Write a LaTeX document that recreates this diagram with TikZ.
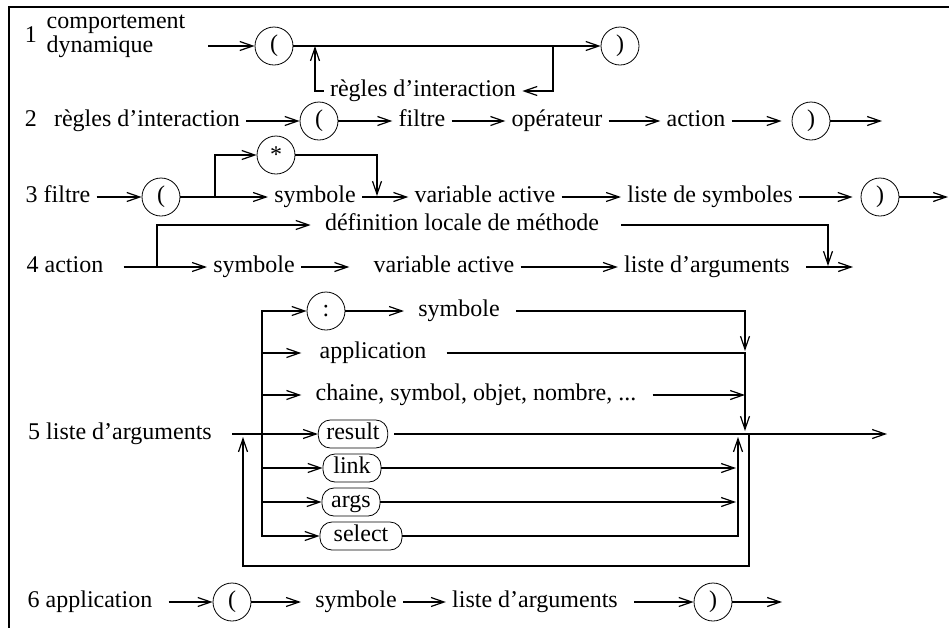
\documentclass[tikz,border=0pt]{standalone}
\usepackage{fontspec}
\setmainfont{Liberation Serif}
\usetikzlibrary{arrows.meta}

\begin{document}
\begin{tikzpicture}[x=0.5pt, y=-0.5pt,
  every node/.style={font=\fontsize{12}{9}\selectfont},
  lbl/.style={inner sep=3pt, text height=1.5ex, text depth=.25ex},
  circ/.style={draw, circle, minimum size=19pt, inner sep=0pt},
  rbox/.style={draw, rounded corners=6pt, minimum height=14pt, inner ysep=0pt, inner xsep=4pt, minimum width=29pt, text height=1.5ex, text depth=.25ex},
  arr/.style={-{Straight Barb[length=6.5pt,width=4.5pt]}, line width=0.6pt},
  ln/.style={line width=0.6pt}
]
  \useasboundingbox (0,0) rectangle (949,628);
  \draw[line width=1.2pt] (949,7) -- (9,7) -- (9,628);

  % 1 comportement dynamique
  \node[lbl] (n1) at (31,37) {1};
  \node[align=left, inner sep=0pt] (cd1) at (116,36) {comportement\\dynamique};
  \coordinate (s1) at (208,46);
  \node[circ] (p1a) at (274,46) {(};
  \node[circ] (p1b) at (620,46) {)};
  \node[lbl] (ri1) at (423,91) {règles d'interaction};
  \coordinate (j1a) at (553,46);
  \coordinate (j1b) at (315,46);
  \draw[arr] (s1) -- (p1a);
  \draw[arr] (p1a) -- (p1b);
  \draw[arr] (j1a) |- (ri1);
  \draw[arr] (ri1) -| (j1b);

  % 2 regles d'interaction
  \node[lbl] (n2) at (31,121) {2};
  \node[lbl] (ri2) at (147,121) {règles d'interaction};
  \node[circ] (p2a) at (319,121) {(};
  \node[lbl] (fi2) at (422,121) {filtre};
  \node[lbl] (op2) at (557,121) {opérateur};
  \node[lbl] (ac2) at (696,121) {action};
  \node[circ] (p2b) at (811,121) {)};
  \coordinate (e2) at (882,121);
  \draw[arr] (ri2) -- (p2a);
  \draw[arr] (p2a) -- (fi2);
  \draw[arr] (fi2) -- (op2);
  \draw[arr] (op2) -- (ac2);
  \draw[arr, shorten >=5pt] (ac2) -- (p2b);
  \draw[arr] (p2b) -- (e2);

  % 3 filtre
  \node[lbl] (fi3) at (58,197) {3 filtre};
  \node[circ] (p3a) at (161,197) {(};
  \coordinate (j3) at (215,197);
  \node[circ] (st3) at (276,155) {*};
  \node[lbl] (sy3) at (315,197) {symbole};
  \coordinate (j3b) at (377,196);
  \node[lbl] (va3) at (485,197) {variable active};
  \node[lbl] (ls3) at (710,197) {liste de symboles};
  \node[circ] (p3b) at (880,197) {)};
  \coordinate (e3) at (948,197);
  \draw[arr] (fi3) -- (p3a);
  \draw[ln] (p3a) -- (j3);
  \draw[arr] (j3) |- (st3);
  \draw[arr] (j3) -- (sy3);
  \draw[arr] (st3) -| (j3b);
  \draw[arr] (sy3) -- (va3);
  \draw[arr] (va3) -- (ls3);
  \draw[arr, shorten >=4pt] (ls3) -- (p3b);
  \draw[arr] (p3b) -- (e3);

  % 4 action
  \node[lbl] (ac4) at (65,267) {4 action};
  \coordinate (j4) at (157,267);
  \node[lbl] (dl4) at (462,225) {définition locale de méthode};
  \node[lbl] (sy4) at (254,267) {symbole};
  \node[lbl] (va4) at (444,267) {variable active};
  \node[lbl] (la4) at (707,267) {liste d'arguments};
  \coordinate (j4b) at (828,266);
  \coordinate (e4) at (853,267);
  \draw[ln, shorten <=7pt] (ac4) -- (j4);
  \draw[arr, shorten >=4pt] (j4) |- (dl4);
  \draw[arr] (j4) -- (sy4);
  \draw[arr, shorten >=9pt] (sy4) -- (va4);
  \draw[arr] (va4) -- (la4);
  \draw[arr, shorten <=5pt] (la4) -- (e4);
  \draw[arr, shorten <=8pt] (dl4) -| (j4b);

  % 5 liste d'arguments
  \node[lbl] (la5) at (120,434) {5 liste d'arguments};
  \coordinate (j5) at (262,434);
  \node[circ] (co5) at (326,311) {:};
  \node[lbl] (sy5) at (459,311) {symbole};
  \node[lbl] (ap5) at (373,353) {application};
  \node[lbl] (ch5) at (476,395) {chaine, symbol, objet, nombre, ...};
  \node[rbox] (re5) at (353,434) {result};
  \node[rbox] (li5) at (352,468) {link};
  \node[rbox] (ar5) at (351,502) {args};
  \node[rbox, minimum width=41pt] (se5) at (361,536) {select};
  \coordinate (k5a) at (745,351);
  \coordinate (k5) at (745,431);
  \coordinate (k5c) at (745,395);
  \coordinate (m5l) at (736,468);
  \coordinate (m5a) at (736,502);
  \coordinate (m5) at (738,437);
  \coordinate (e5) at (887,434);
  \coordinate (r5) at (749,434);
  \coordinate (r5b) at (749,566);
  \coordinate (j5a) at (243,437);
  \draw[ln, shorten <=7pt] (la5) -- (j5);
  \draw[arr] (j5) |- (co5);
  \draw[arr, shorten >=6pt] (j5) |- (ap5);
  \draw[arr, shorten >=4pt] (j5) |- (ch5);
  \draw[arr] (j5) -- (re5);
  \draw[arr] (j5) |- (li5);
  \draw[arr] (j5) |- (ar5);
  \draw[arr] (j5) |- (se5);
  \draw[arr, shorten >=4pt] (co5) -- (sy5);
  \draw[arr, shorten <=5pt] (sy5) -| (k5a);
  \draw[arr, shorten <=7pt] (ap5) -| (k5);
  \draw[arr, shorten <=5pt] (ch5) -- (k5c);
  \draw[arr, shorten <=3pt] (re5) -- (e5);
  \draw[arr] (li5) -- (m5l);
  \draw[arr] (ar5) -- (m5a);
  \draw[arr] (se5) -| (m5);
  \draw[arr] (r5) -- (r5b) -| (j5a);

  % 6 application
  \node[lbl] (ap6) at (90,602) {6 application};
  \node[circ] (p6a) at (232,602) {(};
  \node[lbl] (sy6) at (356,602) {symbole};
  \node[lbl] (la6) at (535,602) {liste d'arguments};
  \node[circ] (p6b) at (713,602) {)};
  \coordinate (e6) at (782,602);
  \draw[arr, shorten <=5pt] (ap6) -- (p6a);
  \draw[arr, shorten >=4pt] (p6a) -- (sy6);
  \draw[arr] (sy6) -- (la6);
  \draw[arr, shorten <=5pt] (la6) -- (p6b);
  \draw[arr] (p6b) -- (e6);
\end{tikzpicture}
\end{document}
